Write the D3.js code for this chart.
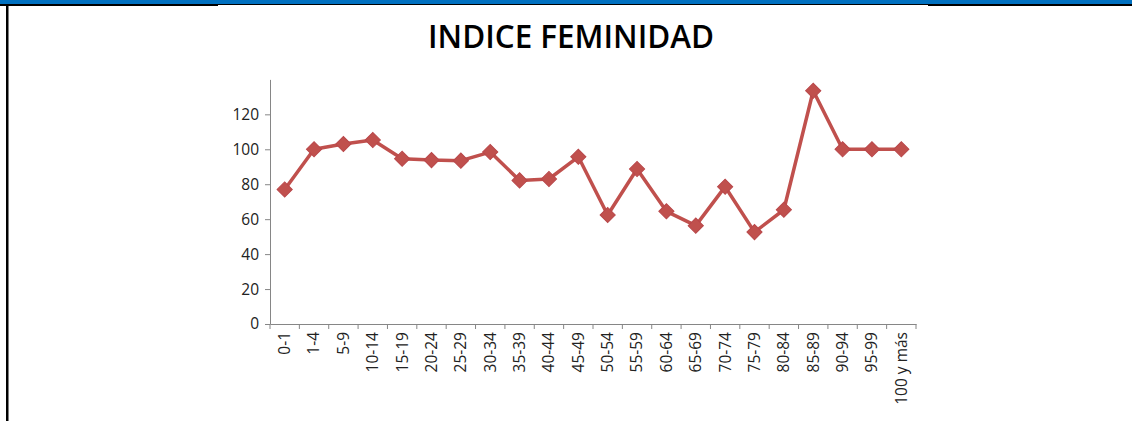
<!DOCTYPE html>
<html>
<head>
<meta charset="utf-8">
<script src="https://cdn.jsdelivr.net/npm/d3@7"></script>
<style>
  html, body { margin: 0; padding: 0; background: #fff; }
  svg { display: block; }
</style>
</head>
<body>
<svg id="chart" width="1132" height="421"></svg>
<script>
const title = "INDICE FEMINIDAD";
const categories = ["0-1","1-4","5-9","10-14","15-19","20-24","25-29","30-34","35-39","40-44","45-49","50-54","55-59","60-64","65-69","70-74","75-79","80-84","85-89","90-94","95-99","100 y más"];
const values = [77, 100, 103, 105.3, 94.6, 93.8, 93.5, 98.4, 82.2, 83, 95.7, 62.4, 88.7, 64.5, 56.3, 78.6, 52.6, 65.4, 133.5, 100, 100, 100];
const yTicks = [0, 20, 40, 60, 80, 100, 120];

const svg = d3.select("#chart");

// frame decorations
svg.append("rect").attr("x", 0).attr("y", 0).attr("width", 1132).attr("height", 4).attr("fill", "#0070C0");
svg.append("rect").attr("x", 0).attr("y", 4).attr("width", 1132).attr("height", 1).attr("fill", "#000");
svg.append("rect").attr("x", 0).attr("y", 4).attr("width", 218).attr("height", 2).attr("fill", "#000");
svg.append("rect").attr("x", 928).attr("y", 4).attr("width", 204).attr("height", 2).attr("fill", "#000");
svg.append("rect").attr("x", 6).attr("y", 4).attr("width", 2.5).attr("height", 417).attr("fill", "#000");

svg.append("text")
  .attr("x", 571).attr("y", 48)
  .attr("text-anchor", "middle")
  .attr("font-family", "'Open Sans', sans-serif")
  .attr("font-weight", 600)
  .attr("font-size", 33)
  .attr("textLength", 286)
  .attr("lengthAdjust", "spacingAndGlyphs")
  .attr("fill", "#000")
  .text(title);

const x0 = 270, x1 = 916, yBottom = 324, yTop = 79.4;
const x = d3.scaleBand().domain(categories).range([x0, x1]).padding(0);
const y = d3.scaleLinear().domain([0, 140]).range([yBottom, yTop]);

const axisColor = "#868686";
const fontFam = "'Open Sans', sans-serif";

// Y axis
const yAxis = svg.append("g").attr("transform", `translate(${x0},0)`)
  .call(d3.axisLeft(y).tickValues(yTicks).tickSizeInner(5).tickSizeOuter(0).tickPadding(6));
yAxis.select(".domain").attr("stroke", axisColor);
yAxis.selectAll(".tick line").attr("stroke", axisColor);
yAxis.selectAll(".tick text").attr("font-family", fontFam).attr("font-size", 15.5).attr("fill", "#222");

// X axis
const xAxis = svg.append("g").attr("transform", `translate(0,${yBottom})`)
  .call(d3.axisBottom(x).tickSizeInner(0).tickSizeOuter(0).tickPadding(0));
xAxis.select(".domain").attr("stroke", axisColor);
xAxis.selectAll(".tick line").remove();
xAxis.selectAll(".tick text")
  .attr("font-family", fontFam).attr("font-size", 15.5).attr("fill", "#222")
  .attr("transform", "rotate(-90)")
  .attr("text-anchor", "end")
  .attr("x", -8).attr("y", 0).attr("dy", "0.35em");

const boundaries = categories.map(c => x(c)).concat([x.range()[1]]);
xAxis.selectAll(".bt").data(boundaries).enter().append("line")
  .attr("x1", d => d).attr("x2", d => d).attr("y1", 0).attr("y2", 5)
  .attr("stroke", axisColor);

// Line
const color = "#C0504D";
const line = d3.line()
  .x((d, i) => x(categories[i]) + x.bandwidth() / 2)
  .y(d => y(d));
svg.append("path").datum(values)
  .attr("d", line).attr("fill", "none")
  .attr("stroke", color).attr("stroke-width", 3.5).attr("stroke-linejoin", "round");

// Markers (diamonds)
const sym = d3.symbol().type(d3.symbolSquare).size(115);
svg.selectAll(".mk").data(values).enter().append("path")
  .attr("d", sym)
  .attr("transform", (d, i) => `translate(${x(categories[i]) + x.bandwidth() / 2},${y(d)}) rotate(45)`)
  .attr("fill", color).attr("stroke", "#B9474A").attr("stroke-width", 1);
</script>
</body>
</html>
